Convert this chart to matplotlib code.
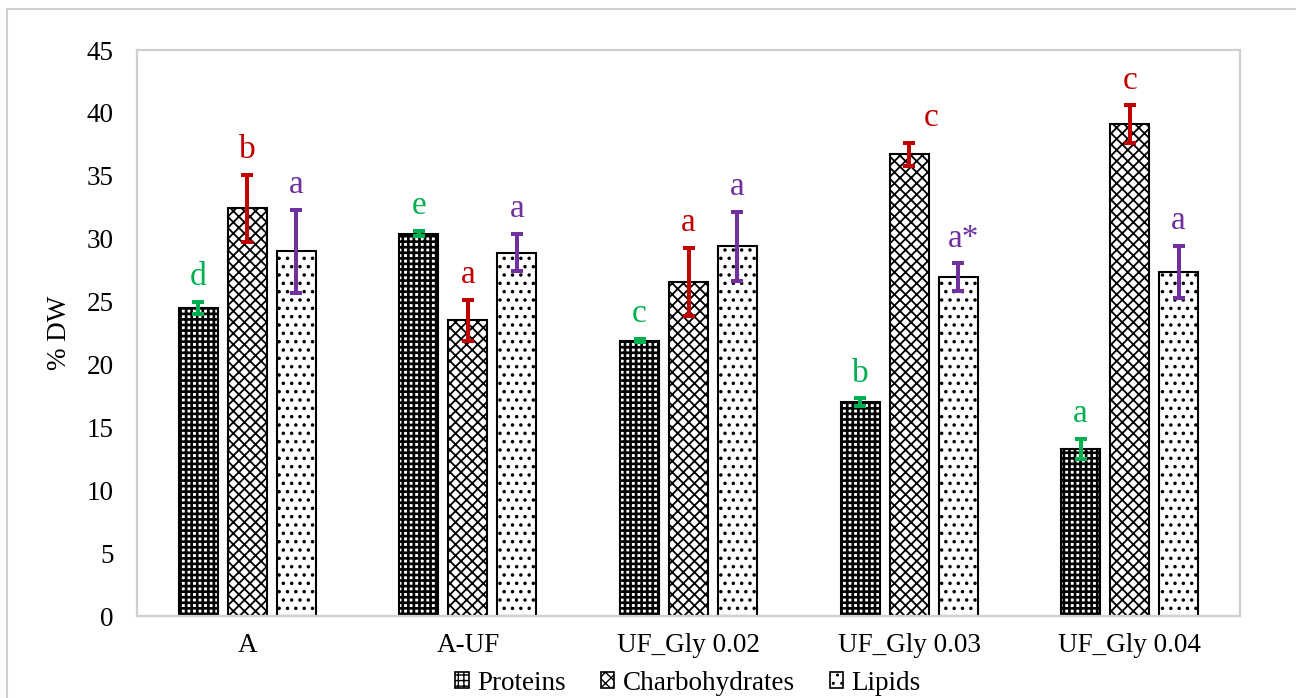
import matplotlib
matplotlib.use("Agg")
import matplotlib.pyplot as plt
from matplotlib.patches import Rectangle, Patch
import numpy as np

plt.rcParams['font.family'] = ['Liberation Serif', 'DejaVu Serif']

categories = ["A", "A-UF", "UF_Gly 0.02", "UF_Gly 0.03", "UF_Gly 0.04"]
series_names = ["Proteins", "Charbohydrates", "Lipids"]

proteins = [24.5, 30.4, 21.9, 17.0, 13.3]
proteins_err = [0.5, 0.2, 0.15, 0.3, 0.8]
carbs = [32.4, 23.5, 26.55, 36.7, 39.1]
carbs_err = [2.65, 1.65, 2.7, 0.9, 1.5]
lipids = [29.0, 28.9, 29.4, 26.95, 27.35]
lipids_err = [3.3, 1.5, 2.75, 1.1, 2.1]

proteins_letters = ["d", "e", "c", "b", "a"]
carbs_letters = ["b", "a", "a", "c", "c"]
lipids_letters = ["a", "a", "a", "a*", "a"]

yticks = [0, 5, 10, 15, 20, 25, 30, 35, 40, 45]
ylabel = "% DW"

values = [proteins, carbs, lipids]
errors = [proteins_err, carbs_err, lipids_err]
letters = [proteins_letters, carbs_letters, lipids_letters]
hatches = ["+++", "xxx", ".."]
hatch_lw = [1.9, 1.3, 1.3]
err_colors = ["#00B050", "#C00000", "#7030A0"]

W, H = 1296, 698
fig = plt.figure(figsize=(W / 100, H / 100), dpi=100)
ax = fig.add_axes([137 / W, 1 - 616 / H, (1240 - 137) / W, (616 - 50) / H])

x = np.arange(len(categories))
offsets = [-0.222, 0.0, 0.222]
bw = 0.177

for i in range(3):
    with plt.rc_context({'hatch.linewidth': hatch_lw[i]}):
        ax.bar(x + offsets[i], values[i], width=bw, facecolor="white",
               edgecolor="black", linewidth=1.5, hatch=hatches[i], zorder=2)
    ax.errorbar(x + offsets[i], values[i], yerr=errors[i], fmt="none",
                ecolor=err_colors[i], elinewidth=2.9, capsize=4.3,
                capthick=2.9, zorder=3)

# letter x-offsets in points (only a few labels are shifted)
dx = {(1, 3): 16, (2, 3): 4}
for i in range(3):
    for j in range(len(categories)):
        top = values[i][j] + errors[i][j]
        ax.annotate(letters[i][j], xy=(x[j] + offsets[i], top),
                    xytext=(dx.get((i, j), 0), 12), textcoords="offset points",
                    ha="center", va="baseline", fontsize=24,
                    color=err_colors[i], zorder=4)

ax.set_xlim(-0.5, len(categories) - 0.5)
ax.set_ylim(0, 45)
ax.set_yticks(yticks)
ax.set_xticks(x)
ax.set_xticklabels(categories, fontsize=19.5)
ax.tick_params(axis="y", labelsize=19.5, length=0, pad=17)
ax.tick_params(axis="x", length=0, pad=12)
ax.set_ylabel(ylabel, fontsize=19.5, labelpad=10)
for s in ax.spines.values():
    s.set_color("#CFCFCF")
    s.set_linewidth(1.6)

handles = []
for i in range(3):
    with plt.rc_context({'hatch.linewidth': hatch_lw[i]}):
        handles.append(Patch(facecolor="white", edgecolor="black",
                             hatch=hatches[i], linewidth=1.2))
fig.legend(handles, series_names, loc="center", bbox_to_anchor=(688 / W, 1 - 683 / H),
           ncol=3, frameon=False, fontsize=19.5, handlelength=0.5, handleheight=0.5,
           handletextpad=0.3, columnspacing=1.3, borderpad=0)

fig.patches.append(Rectangle((7 / W, -0.1), 1.2, (1 - 9 / H) + 0.1, transform=fig.transFigure,
                             fill=False, edgecolor="#D0D0D0", linewidth=1.5))

fig.savefig("out.png", dpi=100)
